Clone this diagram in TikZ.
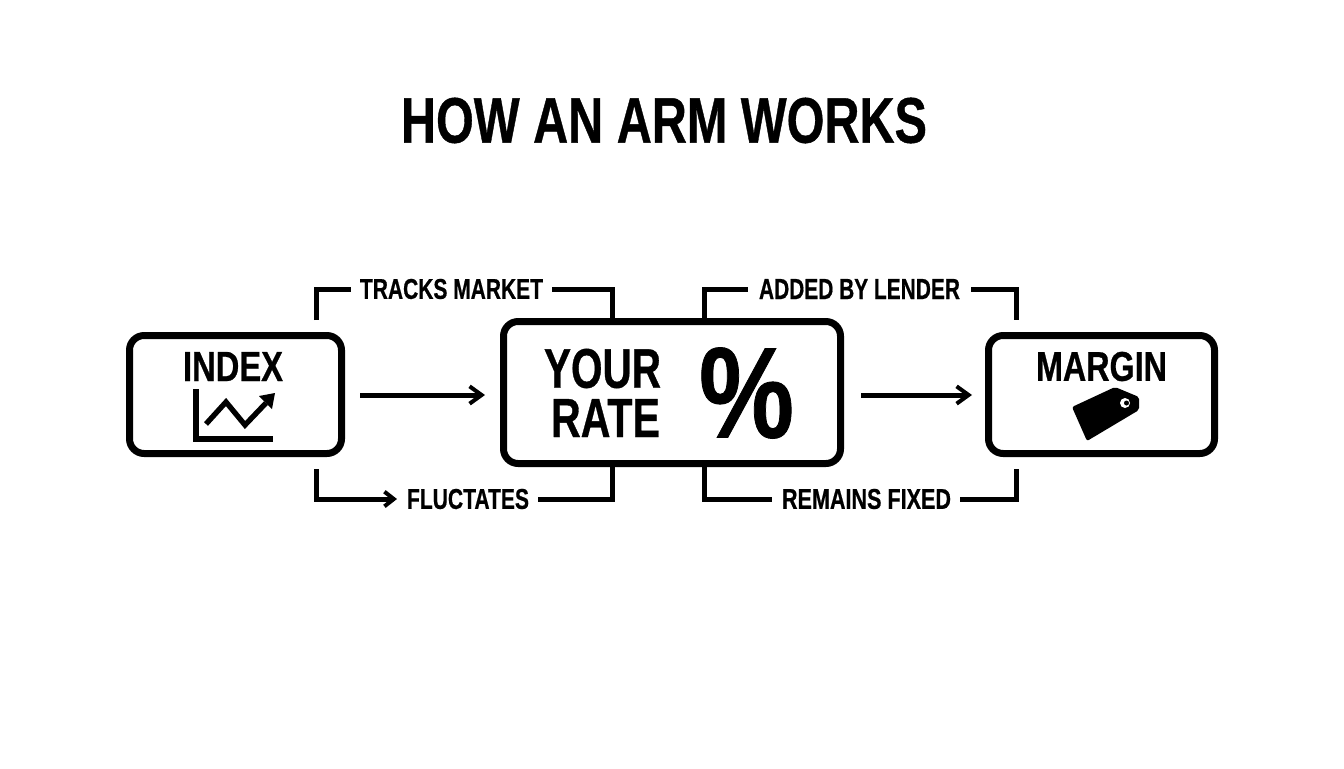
\documentclass[tikz,border=0pt]{standalone}
\usepackage{fontspec}
\usepackage{graphicx}
\setmainfont{Liberation Sans}
\newfontfamily\heavyfont[UprightFont=* Bold,FakeBold=0.7]{Liberation Sans}
\usetikzlibrary{arrows.meta,calc}
\newcommand{\fittext}[3]{\resizebox{#1\dimexpr0.75pt\relax}{#2\dimexpr0.75pt\relax}{\heavyfont #3}}
\tikzset{
  box/.style={draw=black,line width=5.25pt,rounded corners=11pt,fill=white},
  link/.style={draw=black,line width=3.75pt,line join=miter},
  arrowlink/.style={link,-{Straight Barb[length=9pt,width=13pt,line width=3pt]}},
  smallarrow/.style={link,-{Straight Barb[length=7pt,width=11pt,line width=3pt]}},
  lbl/.style={inner sep=0pt,outer sep=0pt,text=black},
}
\begin{document}
\begin{tikzpicture}[x=0.75pt,y=-0.75pt]
\useasboundingbox (0,0) rectangle (1344,768);
\fill[white] (0,0) rectangle (1344,768);
% boxes
\draw[box] (129.5,335.5) rectangle (341.5,453.5);
\draw[box] (503.5,321.5) rectangle (840.5,463.5);
\draw[box] (988.5,335.5) rectangle (1214.5,453.5);
\coordinate (indexE) at (360,395);
\coordinate (rateW) at (485,395);
\coordinate (rateE) at (861,395);
\coordinate (marginW) at (972,395);
\coordinate (idxTop) at (316,320);
\coordinate (idxBot) at (316,469);
\coordinate (rateTopL) at (612,320);
\coordinate (rateTopR) at (704,320);
\coordinate (rateBotL) at (612,465);
\coordinate (rateBotR) at (704,465);
\coordinate (marTop) at (1016,320);
\coordinate (marBot) at (1016,469);
% text
\node[lbl] (title) at (664,120.5) {\fittext{526}{45}{HOW AN ARM WORKS}};
\node[lbl] (index) at (233,366.5) {\fittext{100}{29}{INDEX}};
\node[lbl] (your) at (602.5,368.5) {\fittext{117}{39}{YOUR}};
\node[lbl] (rate) at (605.5,418) {\fittext{109}{38}{RATE}};
\node[lbl] (pct) at (746.5,393) {\fittext{95}{90}{\%}};
\node[lbl] (margin) at (1101.5,366.5) {\fittext{131}{29}{MARGIN}};
\node[lbl] (tracks) at (451.5,289) {\fittext{183}{20}{TRACKS MARKET}};
\node[lbl] (added) at (859.5,289) {\fittext{201}{20}{ADDED BY LENDER}};
\node[lbl] (fluct) at (468,499) {\fittext{122}{20}{FLUCTATES}};
\node[lbl] (fixed) at (866.5,499) {\fittext{169}{20}{REMAINS FIXED}};
% main arrows
\draw[arrowlink] (indexE) -- (rateW);
\draw[arrowlink] (rateE) -- (marginW);
% brackets
\draw[link] (idxTop) |- ($(tracks.west)+(-9,0)$);
\draw[link] ($(tracks.east)+(9,0)$) -| (rateTopL);
\draw[link] (rateTopR) |- ($(added.west)+(-11,0)$);
\draw[link] ($(added.east)+(11,0)$) -| (marTop);
\draw[smallarrow] (idxBot) |- ($(fluct.west)+(-10,0)$);
\draw[link] ($(fluct.east)+(9,0)$) -| (rateBotL);
\draw[link] (rateBotR) |- ($(fixed.west)+(-10,0)$);
\draw[link] ($(fixed.east)+(9,0)$) -| (marBot);
% chart icon
\draw[black,line width=4.5pt,line join=miter] (196,389) -- (196,439) -- (273,439);
\draw[black,line width=4pt,line join=miter] (206,424) -- (226,402) -- (245,425) -- (266,403);
\fill[black] (275,393) -- (259,396) -- (272,409) -- cycle;
% tag icon
\fill[black,rounded corners=1.5pt] (1072,407) -- (1115,387) -- (1139,397) -- (1139,410) -- (1087,441) -- cycle;
\fill[white] (1125,403) circle (5);
\fill[black] (1126.5,403) circle (2.5);
\end{tikzpicture}
\end{document}
